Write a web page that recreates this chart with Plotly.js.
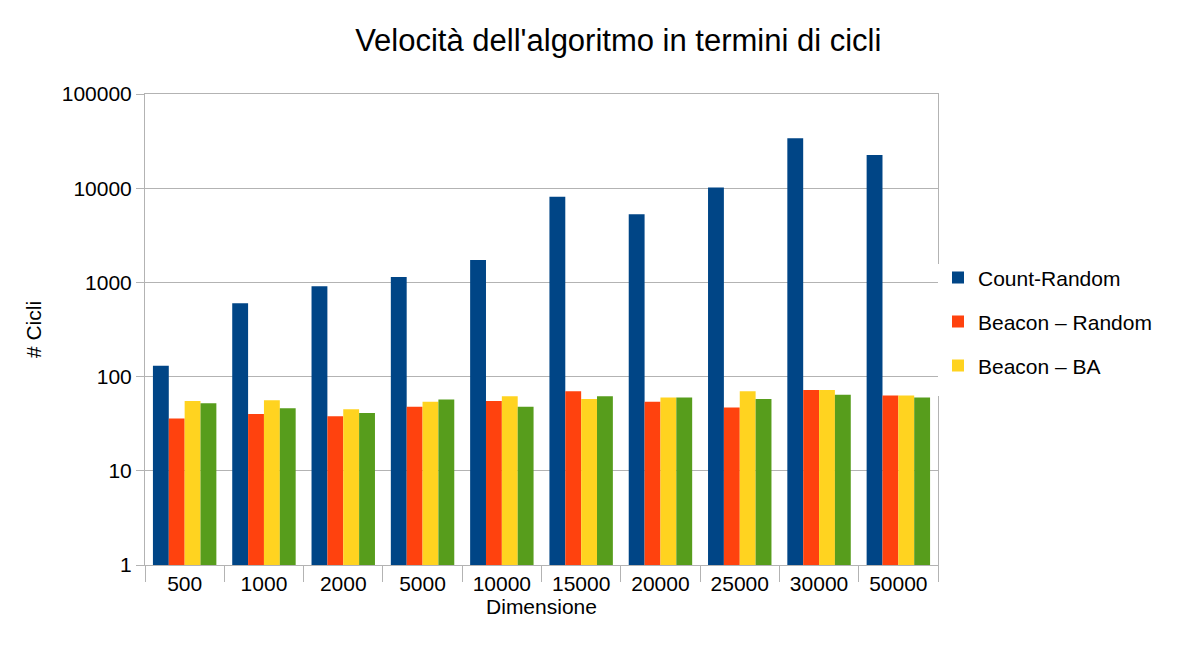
<!DOCTYPE html>
<html>
<head>
<meta charset="utf-8">
<script src="https://cdn.plot.ly/plotly-3.0.1.min.js"></script>
<style>body{margin:0;background:#fff}#graph{width:1189px;height:648px}</style>
</head>
<body>
<div id="graph"></div>
<script>
const categories = ["500", "1000", "2000", "5000", "10000", "15000", "20000", "25000", "30000", "50000"];
const countRandom = [130, 600, 910, 1140, 1730, 8100, 5300, 10200, 34000, 22500];
const beaconRandom = [36, 40, 38, 48, 55, 70, 54, 47, 72, 63];
const beaconBA = [55, 56, 45, 54, 62, 58, 60, 70, 72, 63];
const beaconWS = [52, 46, 41, 57, 48, 62, 60, 58, 64, 60];

const seriesNames = ["Count-Random", "Beacon – Random", "Beacon – BA", "Beacon – WS"];
const seriesColors = ["#004586", "#ff420e", "#ffd320", "#579d1c"];
const seriesValues = [countRandom, beaconRandom, beaconBA, beaconWS];

const font = "Liberation Sans, Arial, sans-serif";

const traces = seriesValues.map((vals, i) => ({
    type: "bar",
    name: seriesNames[i],
    x: categories,
    y: vals,
    marker: { color: seriesColors[i] }
}));

const layout = {
    width: 1189,
    height: 648,
    margin: { l: 145, r: 251, t: 94, b: 83 },
    paper_bgcolor: "#fff",
    plot_bgcolor: "#fff",
    font: { family: font, size: 21, color: "#000" },
    title: { text: "Velocità dell'algoritmo in termini di cicli", x: 0.52, xanchor: "center", y: 0.955, font: { size: 31 } },
    bargap: 0.2,
    bargroupgap: 0,
    barmode: "group",
    showlegend: true,
    legend: { x: 1.0, y: 0.5, yanchor: "middle", font: { size: 21 }, tracegroupgap: 0, itemwidth: 30,
              entrywidthmode: "pixels" },
    xaxis: {
        type: "category",
        title: { text: "Dimensione", font: { size: 21 }, standoff: 2 },
        showline: true, linecolor: "#b3b3b3", mirror: true,
        ticks: "outside", ticklen: 16, tickcolor: "#b3b3b3",
        tickson: "boundaries",
        tickfont: { size: 21 }
    },
    yaxis: {
        type: "log",
        range: [0, 5],
        title: { text: "# Cicli", font: { size: 21 }, standoff: 14 },
        tickvals: [1, 10, 100, 1000, 10000, 100000],
        ticktext: ["1", "10", "100", "1000", "10000", "100000"],
        showgrid: true, gridcolor: "#b3b3b3",
        showline: true, linecolor: "#b3b3b3", mirror: true,
        ticks: "outside", ticklen: 8, tickcolor: "#b3b3b3",
        tickfont: { size: 21 }
    }
};

Plotly.newPlot("graph", traces, layout, { displayModeBar: false, staticPlot: true }).then(() => {
    // spread legend rows like the original (about 44px apart)
    document.querySelectorAll(".legend .traces").forEach((g, i) => {
        g.setAttribute("transform", "translate(0," + (i * 44 + 14) + ")");
    });
});
</script>
</body>
</html>
